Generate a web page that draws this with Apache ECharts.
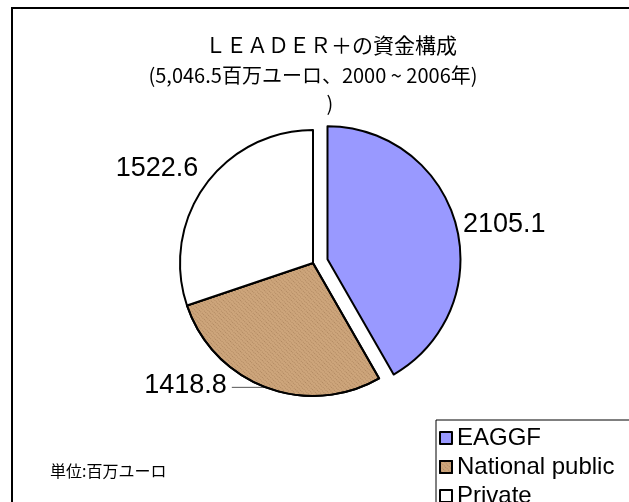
<!DOCTYPE html>
<html>
<head>
<meta charset="utf-8">
<script src="https://cdn.jsdelivr.net/npm/echarts@6/dist/echarts.min.js"></script>
<style>
  html, body { margin: 0; padding: 0; background: #fff; }
  #chart { width: 629px; height: 502px; }
</style>
</head>
<body>
<div id="chart"></div>
<script>
// data
const categories = ['EAGGF', 'National public', 'Private'];
const values = [2105.1, 1418.8, 1522.6];
const titleLines = ['ＬＥＡＤＥＲ＋の資金構成', '(5,046.5百万ユーロ、2000 ~ 2006年)', ')'];
const unitNote = '単位:百万ユーロ';

const colors = ['#9999ff', '#cda57b', '#ffffff'];
const jpFont = '"Noto Sans CJK JP", sans-serif';
const numFont = '"Liberation Sans", Arial, sans-serif';

// fine texture like the Excel fill on the brown slice
const brownTexture = {
  symbol: 'rect',
  symbolSize: 1,
  dashArrayX: [1, 1],
  dashArrayY: [1, 2],
  rotation: Math.PI / 4,
  color: 'rgba(120, 80, 45, 0.35)'
};

// per-slice label tweaks (index follows categories)
const labelTweaks = [
  { labelLine: { show: false, length: 2, length2: 0 }, label: { offset: [0, -4] } },
  { labelLine: { show: true, length: 0, length2: 34 }, label: { offset: [0, -2] } },
  { labelLine: { show: false, length: 12, length2: 0 }, label: { offset: [8, -10] } }
];

const chart = echarts.init(document.getElementById('chart'), null, { renderer: 'canvas' });

chart.setOption({
  backgroundColor: '#fff',
  animation: false,
  graphic: [
    { type: 'rect', silent: true, z: -10, shape: { x: 12, y: 8, width: 700, height: 600 },
      style: { fill: 'none', stroke: '#000', lineWidth: 2 } },
    { type: 'text', x: 331, y: 45, style: { text: titleLines[0], textAlign: 'center', textVerticalAlign: 'middle', font: '21px ' + jpFont, fill: '#000' } },
    { type: 'text', x: 313, y: 75, style: { text: titleLines[1], textAlign: 'center', textVerticalAlign: 'middle', font: '20px ' + jpFont, fill: '#000' } },
    { type: 'text', x: 330, y: 103, style: { text: titleLines[2], textAlign: 'center', textVerticalAlign: 'middle', font: '20px ' + jpFont, fill: '#000' } },
    { type: 'text', x: 50, y: 471, style: { text: unitNote, textAlign: 'left', textVerticalAlign: 'middle', font: '16px ' + jpFont, fill: '#000' } }
  ],
  legend: {
    orient: 'vertical',
    left: 436,
    top: 420,
    height: 160,
    icon: 'rect',
    itemWidth: 12,
    itemHeight: 12,
    itemGap: 5,
    padding: [6, 60, 6, 3],
    borderColor: '#000',
    borderWidth: 1,
    textStyle: { fontSize: 24, lineHeight: 24, fontFamily: numFont, color: '#000' },
    data: categories
  },
  series: [{
    type: 'pie',
    center: [313, 263],
    radius: 133,
    startAngle: 90,
    clockwise: true,
    selectedMode: 'single',
    selectedOffset: 15,
    avoidLabelOverlap: false,
    emphasis: { disabled: true },
    itemStyle: { borderColor: '#000', borderWidth: 2 },
    label: {
      show: true,
      position: 'outside',
      formatter: p => p.value.toFixed(1),
      fontSize: 27,
      fontFamily: numFont,
      color: '#000'
    },
    labelLine: { show: true, lineStyle: { color: '#555', width: 1 } },
    data: categories.map((name, i) => Object.assign({
      name: name,
      value: values[i],
      selected: i === 0,
      itemStyle: i === 1 ? { color: colors[i], decal: brownTexture } : { color: colors[i] }
    }, labelTweaks[i]))
  }]
});
</script>
</body>
</html>
